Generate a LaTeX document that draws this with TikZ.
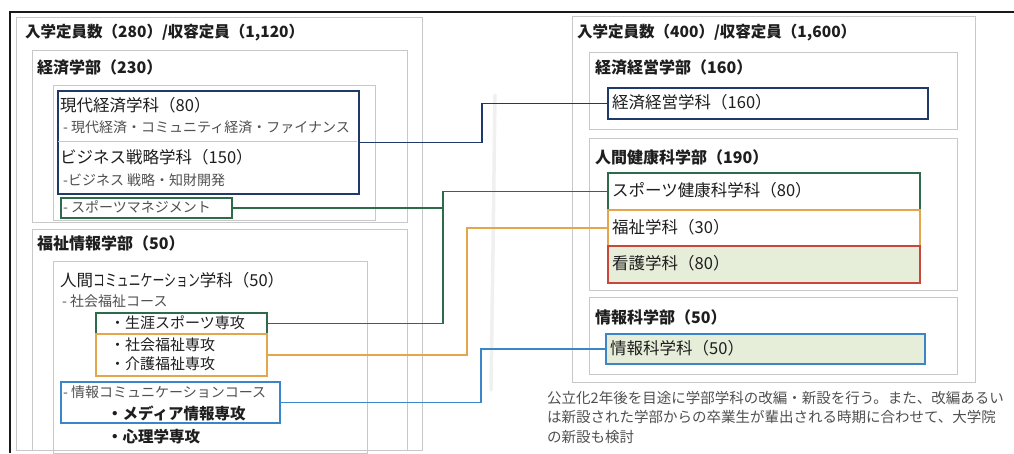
\documentclass[tikz,border=0pt]{standalone}
\usepackage{fontspec}
\setmainfont{Noto Sans CJK JP}
\usetikzlibrary{calc}
\definecolor{navyc}{HTML}{1F3A68}
\definecolor{greenc}{HTML}{2E6B4A}
\definecolor{orangec}{HTML}{E3A64A}
\definecolor{redc}{HTML}{C8463A}
\definecolor{bluec}{HTML}{3A86C8}
\definecolor{fillg}{HTML}{E6EDD9}
\definecolor{boxgray}{HTML}{C8C8C8}
\definecolor{txt}{HTML}{1E1E1E}
\definecolor{subtxt}{HTML}{505050}
\tikzset{
  gbox/.style={draw=boxgray, line width=1pt, anchor=north west, inner sep=0pt},
  cbox/.style={draw=#1, line width=1.9pt, anchor=north west, inner sep=0pt},
  ttl/.style={anchor=west, inner sep=0pt, text=txt, font=\fontsize{15.5}{18}\selectfont\bfseries},
  fac/.style={anchor=west, inner sep=0pt, text=txt, font=\fontsize{16}{18}\selectfont\bfseries},
  dep/.style={anchor=west, inner sep=0pt, text=txt, font=\fontsize{16.5}{18}\selectfont},
  sub/.style={anchor=west, inner sep=0pt, text=subtxt, font=\fontsize{14}{16}\selectfont},
  bsub/.style={anchor=west, inner sep=0pt, text=txt, font=\fontsize{15.5}{18}\selectfont\bfseries},
  note/.style={anchor=west, inner sep=0pt, text=subtxt, font=\fontsize{14.5}{16}\selectfont},
  conn/.style={draw=#1, line width=1.9pt},
}
\begin{document}
\begin{tikzpicture}[x=1pt,y=-1pt]
\useasboundingbox (0,0) rectangle (1014,453);
\fill[white] (0,0) rectangle (1014,453);
% scan fold artifact
\draw[gray!12, line width=3.5pt, line cap=round] (495,95) -- (493,250) -- (491,390);
% outer frame
\draw[black!90, line width=2.5pt] (10,453) -- (10,12) -- (1014,12);

% ---------- left panel ----------
\node[gbox, minimum width=406, minimum height=433] (lp) at (16,17) {};
\node[ttl] (lt) at (25,33) {入学定員数（280）/収容定員（1,120）};

\node[gbox, minimum width=375, minimum height=172] (eco) at (32,50) {};
\node[fac] (ecot) at (37,67) {経済学部（230）};
\node[gbox, minimum width=322, minimum height=135] (ecoin) at (53,85) {};

\node[cbox=navyc, minimum width=301, minimum height=103] (nb) at (57,90) {};
\draw[boxgray, line width=1pt] (58,141) -- (357,141);
\node[dep] (d1) at (60,105) {現代経済学科（80）};
\node[sub] (d1s) at (63,127) {- 現代経済・コミュニティ経済・ファイナンス};
\node[dep] (d2) at (60,157) {ビジネス戦略学科（150）};
\node[sub] (d2s) at (63,180) {-ビジネス 戦略・知財開発};
\node[cbox=greenc, minimum width=171, minimum height=20] (sm) at (60,197) {};
\node[sub] (smt) at (63,207) {- スポーツマネジメント};

\node[gbox, minimum width=375, minimum height=221] (wel) at (32,229) {};
\node[fac] (welt) at (37,243) {福祉情報学部（50）};
\node[gbox, minimum width=314, minimum height=192] (welin) at (53,261) {};
\node[dep] (hc) at (60,280) {人間\scalebox{0.72}[1]{コミュニケーション}学科（50）};
\node[sub] (swc) at (62,301) {- 社会福祉コース};
\node[cbox=greenc, minimum width=171, minimum height=21] (sg) at (95,312) {};
\node[dep, font=\fontsize{15}{18}\selectfont] (sgt) at (110,323) {・生涯スポーツ専攻};
\node[cbox=orangec, minimum width=171, minimum height=42] (ok) at (95,333) {};
\node[dep, font=\fontsize{15}{18}\selectfont] (ok1) at (110,345) {・社会福祉専攻};
\node[dep, font=\fontsize{15}{18}\selectfont] (ok2) at (110,364) {・介護福祉専攻};
\node[cbox=bluec, minimum width=219, minimum height=41] (ic) at (60,381) {};
\node[sub] (ict) at (63,392) {- 情報コミュニケーションコース};
\node[bsub] (ic1) at (107,413) {・メディア情報専攻};
\node[bsub] (ic2) at (107,437) {・心理学専攻};

% ---------- right panel ----------
\node[gbox, minimum width=403, minimum height=366] (rp) at (572,16) {};
\node[ttl] (rt) at (577,33) {入学定員数（400）/収容定員（1,600）};

\node[gbox, minimum width=368, minimum height=77] (ecm) at (589,52) {};
\node[fac] (ecmt) at (595,67) {経済経営学部（160）};
\node[cbox=navyc, minimum width=320, minimum height=31] (ek) at (607,87) {};
\node[dep] (ekt) at (612,102) {経済経営学科（160）};

\node[gbox, minimum width=368, minimum height=152] (hh) at (589,138) {};
\node[fac] (hht) at (595,157) {人間健康科学部（190）};
\node[cbox=greenc, minimum width=312, minimum height=37] (sk) at (607,172) {};
\node[dep] (skt) at (612,190) {スポーツ健康科学科（80）};
\node[cbox=orangec, minimum width=312, minimum height=36] (fk) at (607,209) {};
\node[dep] (fkt) at (612,227) {福祉学科（30）};
\node[cbox=redc, fill=fillg, minimum width=312, minimum height=37] (kk) at (607,245) {};
\node[dep] (kkt) at (612,263) {看護学科（80）};

\node[gbox, minimum width=368, minimum height=77] (inf) at (589,297) {};
\node[fac] (inft) at (595,317) {情報科学部（50）};
\node[cbox=bluec, fill=fillg, minimum width=319, minimum height=30] (ik) at (605,333) {};
\node[dep] (ikt) at (610,348) {情報科学科（50）};

\node[note] (n1) at (547,398) {公立化2年後を目途に学部学科の改編・新設を行う。また、改編あるい};
\node[note] (n2) at (547,417) {は新設された学部からの卒業生が輩出される時期に合わせて、大学院};
\node[note] (n3) at (547,437) {の新設も検討};

% ---------- connectors ----------
\coordinate (nj) at (482,0);
\coordinate (gj) at (443,0);
\coordinate (oj) at (467,0);
\coordinate (bj) at (481,0);
\draw[conn=navyc] (nb.east) -- (nb.east -| nj) |- (ek.west);
\draw[conn=greenc] (sm.east) -- (sm.east -| gj) |- (sk.west);
\draw[conn=greenc] (sg.east) -- (sg.east -| gj) |- (sk.west);
\draw[conn=orangec] (ok.east) -- (ok.east -| oj) |- (fk.west);
\draw[conn=bluec] (ic.east) -- (ic.east -| bj) |- (ik.west);
\end{tikzpicture}
\end{document}
